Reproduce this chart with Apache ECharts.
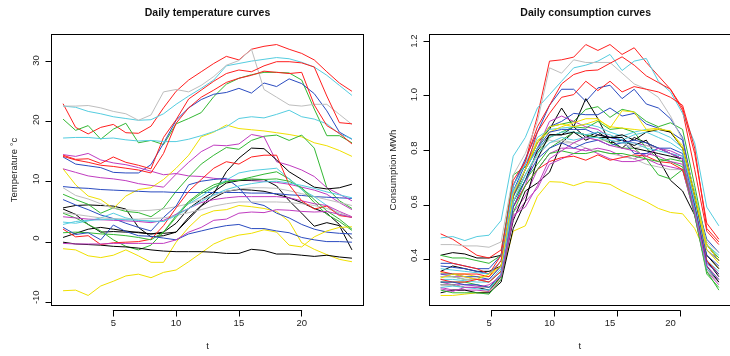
<!DOCTYPE html>
<html><head><meta charset="utf-8">
<script src="https://cdn.jsdelivr.net/npm/echarts@6/dist/echarts.min.js"></script>
<style>html,body{margin:0;padding:0;background:#fff}#c{width:730px;height:356px}</style>
</head><body><div id="c"></div>
<script>
// ---- data ----
const hours = [1,2,3,4,5,6,7,8,9,10,11,12,13,14,15,16,17,18,19,20,21,22,23,24];
const xTicks = [5,10,15,20];
const tempTicks = [-10,0,10,20,30];
const consTicks = [0.4,0.6,0.8,1.0,1.2];
const palette = ['#000000','#FF1F1F','#33B833','#2A4BC0','#55CDE0','#C03CC0','#F0E000','#BEBEBE'];

// Temperature (°C), per colour group
const tempBlack1 = [5.1,5.5,5.6,5.5,5.4,4.9,1.8,0.2,0.4,1.0,3.2,5.4,6.8,7.9,8.2,8.1,7.9,7.4,6.8,6.0,5.0,4.2,2.3,-0.1];
const tempBlack2 = [4.9,4.0,2.3,1.0,1.1,1.0,1.0,0.7,1.0,2.5,5.0,6.5,7.8,9.3,9.7,9.8,9.9,8.8,6.3,4.2,2.0,2.6,2.1,-2.0];
const tempBlack3 = [0.1,0.8,1.5,1.8,1.5,1.2,0.9,0.7,0.8,1.0,3.5,5.5,7.5,11.2,13.5,15.2,15.1,13.2,11.2,9.9,8.6,8.3,8.5,9.1];
const tempBlack4 = [-0.7,-1.0,-1.1,-1.2,-1.4,-1.5,-1.7,-2.0,-2.2,-2.3,-2.3,-2.3,-2.4,-2.6,-2.6,-1.9,-2.1,-2.7,-2.7,-2.9,-3.1,-2.9,-3.2,-3.4];
const tempRed1 = [22.7,18.7,17.6,18.7,19.2,17.8,17.7,18.9,22.0,24.8,26.7,28.1,29.5,30.7,30.1,31.9,32.4,32.7,31.9,31.2,30.1,28.1,26.2,24.8];
const tempRed2 = [14.0,13.3,13.4,12.6,13.7,12.8,12.3,11.7,17.0,20.0,23.5,25.0,26.5,27.8,28.4,28.1,29.1,29.8,29.8,29.6,28.9,24.0,19.5,19.3];
const tempRed3 = [13.8,13.2,12.8,12.3,12.1,11.8,11.5,11.0,14.3,19.4,22.0,23.8,25.0,26.3,27.0,27.5,28.2,28.0,27.8,28.0,22.5,19.0,17.7,15.9];
const tempRed4 = [1.5,0.2,0.4,-1.1,-0.8,-0.7,-0.6,-0.2,2.1,5.1,7.9,9.9,11.8,12.9,12.5,13.7,14.0,14.0,9.0,6.3,4.9,5.4,3.8,3.5];
const tempGreen1 = [20.1,18.2,19.0,16.7,18.4,19.4,16.1,16.5,15.8,19.3,20.2,21.2,23.9,26.0,27.0,27.6,28.0,28.0,27.9,26.7,21.8,17.3,17.3,16.1];
const tempGreen2 = [7.4,6.5,5.7,4.2,5.1,4.5,4.3,3.6,5.1,7.9,10.3,12.5,14.0,15.3,15.0,16.5,17.2,17.4,16.5,17.4,15.2,8.5,6.3,5.0];
const tempGreen3 = [4.2,3.4,2.3,1.2,-0.3,-1.4,-2.0,-1.2,1.0,3.8,6.2,7.8,9.0,9.6,9.8,10.3,10.8,11.2,10.0,8.3,6.0,4.0,2.8,1.3];
const tempGreen4 = [0.9,1.0,0.9,0.7,0.6,0.4,0.1,-0.3,1.0,3.5,6.0,7.5,8.6,9.5,9.8,10.0,9.9,10.0,9.6,8.5,6.5,4.6,3.2,1.5];
const tempBlue1 = [13.7,12.5,12.2,11.9,11.1,11.0,11.0,12.4,16.0,19.9,22.0,23.4,24.3,24.6,25.3,24.5,26.2,25.6,26.9,26.1,24.4,21.5,17.9,16.7];
const tempBlue2 = [8.7,8.5,8.4,8.2,8.1,8.0,7.9,7.8,7.8,7.7,7.7,7.7,7.7,7.7,7.7,7.6,7.6,7.5,7.3,7.2,7.0,6.9,6.8,6.7];
const tempBlue3 = [6.5,5.6,4.8,3.9,3.3,2.5,1.8,1.2,3.5,5.4,9.0,9.6,9.9,10.1,8.5,6.0,5.5,4.2,3.4,2.3,1.5,1.0,0.8,0.7];
const tempBlue4 = [1.8,0.6,0.9,-0.3,2.2,1.1,0.4,0.3,0.0,-0.3,0.7,1.2,1.7,2.1,2.3,1.6,1.6,1.2,0.9,0.1,-0.3,-0.6,-0.6,-0.7];
const tempCyan1 = [22.3,22.1,21.4,21.0,20.5,20.2,19.9,20.0,21.0,22.6,24.0,25.3,26.7,29.1,29.5,29.9,30.2,30.5,30.3,29.7,28.9,27.5,25.8,24.1];
const tempCyan2 = [16.9,17.0,17.0,16.8,16.9,16.6,16.4,16.5,16.3,16.3,16.7,17.3,18.0,18.8,20.2,20.5,20.3,20.9,21.6,20.5,20.1,19.3,17.6,16.8];
const tempCyan3 = [2.7,2.5,2.9,3.4,4.2,3.4,3.0,2.8,2.8,4.0,5.8,7.0,8.5,9.8,11.0,11.4,11.6,11.8,10.0,8.2,7.0,5.5,4.0,3.5];
const tempCyan4 = [2.3,2.8,3.0,3.1,3.2,3.1,3.0,2.9,2.8,3.8,5.0,6.2,7.3,8.2,8.8,9.2,9.5,9.6,9.3,8.9,8.4,7.8,7.3,6.8];
const tempMagenta1 = [14.1,13.8,14.3,13.2,12.7,12.4,11.9,11.3,10.7,10.9,10.5,10.4,10.1,9.9,9.8,9.7,9.6,9.4,9.1,8.6,8.1,7.4,6.0,4.8];
const tempMagenta2 = [11.7,11.1,10.5,10.2,10.0,9.7,9.2,8.9,8.6,10.8,12.8,14.6,15.7,15.6,15.9,17.5,17.1,12.9,12.3,11.5,10.4,8.5,7.4,6.3];
const tempMagenta3 = [3.6,3.4,3.2,3.1,3.0,2.9,2.8,2.6,3.0,4.0,5.0,6.0,6.5,6.8,7.0,7.0,7.0,7.0,6.8,6.3,5.8,5.5,4.5,3.6];
const tempMagenta4 = [-0.9,-1.0,-1.0,-1.0,-0.9,-0.9,-0.9,-0.9,-0.9,-0.3,1.0,1.8,3.0,3.2,4.2,4.4,4.3,4.8,4.7,4.5,4.4,4.5,4.0,3.5];
const tempYellow1 = [11.7,9.0,7.1,6.5,5.0,7.1,8.2,8.5,9.9,11.8,14.0,17.1,17.9,19.1,18.5,18.3,18.1,17.8,17.5,17.1,16.1,15.6,14.8,13.8];
const tempYellow2 = [-1.8,-2.0,-3.0,-3.3,-2.9,-2.0,-3.0,-4.1,-4.1,-0.7,1.8,3.8,4.6,4.8,5.5,5.3,5.0,4.5,2.8,-0.8,-1.9,-2.8,-3.6,-4.0];
const tempYellow3 = [-8.9,-8.8,-9.7,-8.1,-7.3,-6.4,-6.1,-6.7,-5.8,-5.4,-4.0,-2.5,-1.0,-0.1,0.5,0.8,1.4,1.0,-1.2,-1.5,0.2,1.2,1.8,1.9];
const tempGray1 = [22.3,22.3,22.4,22.0,21.4,21.0,19.9,20.8,24.7,25.1,24.7,25.8,27.3,29.2,30.0,31.9,25.1,23.8,22.5,22.3,22.6,22.6,20.9,19.2];
const tempGray2 = [8.5,7.2,6.6,5.8,5.0,4.8,4.6,4.7,4.9,5.3,5.8,6.5,7.2,7.9,8.3,8.5,8.5,8.4,8.0,7.5,7.0,6.5,6.0,5.5];
const tempGray3 = [4.3,4.0,3.7,3.4,3.3,3.2,3.2,3.3,3.4,3.8,4.3,4.8,5.4,5.8,6.1,6.1,6.1,6.1,6.0,5.8,5.5,5.0,4.3,3.5];

// Consumption (MWh), per colour group
const consBlack1 = [0.40,0.41,0.405,0.39,0.39,0.40,0.62,0.72,0.82,0.87,0.95,0.88,0.84,0.86,0.83,0.80,0.84,0.82,0.80,0.78,0.76,0.62,0.44,0.38];
const consBlack2 = [0.34,0.36,0.35,0.34,0.34,0.36,0.60,0.68,0.79,0.85,0.85,0.88,0.985,0.91,0.82,0.83,0.81,0.83,0.76,0.68,0.64,0.55,0.40,0.35];
const consBlack3 = [0.29,0.29,0.28,0.28,0.27,0.32,0.53,0.64,0.67,0.71,0.82,0.86,0.85,0.84,0.84,0.85,0.83,0.86,0.87,0.86,0.80,0.62,0.38,0.32];
const consBlack4 = [0.26,0.27,0.27,0.26,0.26,0.30,0.50,0.60,0.76,0.85,0.85,0.86,0.83,0.85,0.84,0.84,0.80,0.79,0.78,0.77,0.76,0.58,0.36,0.30];
const consRed1 = [0.48,0.46,0.43,0.40,0.39,0.42,0.66,0.75,0.92,1.125,1.13,1.14,1.187,1.165,1.187,1.15,1.175,1.12,1.07,1.02,0.94,0.72,0.49,0.44];
const consRed2 = [0.385,0.37,0.36,0.35,0.33,0.40,0.68,0.75,0.88,0.96,1.04,1.075,1.089,1.092,1.117,1.141,1.11,1.07,1.045,1.02,0.95,0.78,0.52,0.46];
const consRed3 = [0.34,0.33,0.33,0.33,0.32,0.38,0.62,0.72,0.86,0.93,0.99,1.0,1.05,1.015,1.05,1.01,1.03,1.02,1.01,0.99,0.96,0.80,0.50,0.45];
const consRed4 = [0.31,0.30,0.30,0.31,0.30,0.34,0.58,0.66,0.72,0.75,0.765,0.77,0.755,0.775,0.755,0.765,0.775,0.77,0.75,0.745,0.72,0.58,0.38,0.33];
const consGreen1 = [0.40,0.39,0.39,0.38,0.37,0.40,0.70,0.73,0.80,0.88,0.89,0.90,0.945,0.955,0.915,0.945,0.935,0.90,0.88,0.895,0.87,0.66,0.44,0.39];
const consGreen2 = [0.32,0.32,0.31,0.31,0.30,0.34,0.62,0.70,0.78,0.84,0.86,0.88,0.875,0.90,0.87,0.875,0.86,0.80,0.76,0.75,0.73,0.58,0.35,0.30];
const consGreen3 = [0.30,0.30,0.30,0.29,0.28,0.32,0.60,0.68,0.74,0.80,0.83,0.86,0.85,0.84,0.82,0.80,0.80,0.76,0.70,0.685,0.72,0.55,0.33,0.28];
const consGreen4 = [0.27,0.26,0.26,0.26,0.255,0.31,0.56,0.66,0.72,0.78,0.79,0.78,0.78,0.79,0.78,0.78,0.77,0.76,0.75,0.76,0.75,0.55,0.34,0.27];
const consBlue1 = [0.37,0.37,0.36,0.35,0.35,0.40,0.66,0.76,0.86,0.96,1.02,1.02,0.975,1.025,1.035,0.985,1.02,0.965,0.95,0.91,0.84,0.62,0.46,0.41];
const consBlue2 = [0.36,0.355,0.35,0.34,0.33,0.38,0.64,0.74,0.82,0.88,0.90,0.93,0.925,0.925,0.95,0.92,0.93,0.89,0.875,0.86,0.83,0.62,0.42,0.38];
const consBlue3 = [0.33,0.33,0.32,0.32,0.31,0.36,0.62,0.72,0.80,0.86,0.87,0.87,0.87,0.85,0.84,0.83,0.78,0.78,0.80,0.80,0.78,0.60,0.40,0.36];
const consBlue4 = [0.30,0.30,0.29,0.29,0.28,0.33,0.58,0.68,0.76,0.80,0.82,0.80,0.82,0.83,0.81,0.82,0.83,0.82,0.80,0.78,0.76,0.58,0.37,0.33];
const consCyan1 = [0.465,0.47,0.455,0.47,0.475,0.53,0.77,0.84,0.95,1.0,1.05,1.10,1.11,1.125,1.15,1.09,1.125,1.135,1.05,1.01,0.93,0.82,0.58,0.51];
const consCyan2 = [0.35,0.345,0.34,0.335,0.33,0.38,0.66,0.74,0.84,0.87,0.875,0.88,0.89,0.88,0.86,0.845,0.86,0.87,0.86,0.84,0.80,0.64,0.44,0.40];
const consCyan3 = [0.31,0.31,0.305,0.30,0.30,0.35,0.64,0.72,0.80,0.84,0.86,0.86,0.85,0.86,0.85,0.83,0.85,0.86,0.84,0.82,0.79,0.60,0.38,0.34];
const consCyan4 = [0.28,0.285,0.28,0.275,0.27,0.33,0.60,0.70,0.78,0.82,0.84,0.83,0.84,0.84,0.83,0.82,0.82,0.80,0.79,0.78,0.77,0.57,0.35,0.31];
const consMagenta1 = [0.33,0.32,0.32,0.31,0.31,0.36,0.58,0.66,0.80,0.90,0.92,0.90,0.88,0.87,0.84,0.83,0.82,0.81,0.80,0.79,0.77,0.60,0.38,0.33];
const consMagenta2 = [0.30,0.29,0.29,0.285,0.28,0.33,0.56,0.62,0.72,0.78,0.80,0.80,0.79,0.80,0.79,0.77,0.76,0.78,0.77,0.75,0.74,0.56,0.35,0.30];
const consMagenta3 = [0.28,0.27,0.27,0.27,0.265,0.31,0.54,0.60,0.65,0.74,0.76,0.78,0.80,0.78,0.76,0.75,0.75,0.76,0.74,0.73,0.72,0.55,0.34,0.29];
const consMagenta4 = [0.275,0.265,0.28,0.28,0.29,0.32,0.55,0.58,0.66,0.76,0.79,0.82,0.84,0.83,0.81,0.80,0.79,0.77,0.80,0.78,0.76,0.56,0.36,0.31];
const consYellow1 = [0.25,0.25,0.255,0.26,0.265,0.32,0.49,0.51,0.62,0.675,0.673,0.66,0.675,0.672,0.665,0.64,0.62,0.60,0.575,0.56,0.555,0.50,0.40,0.35];
const consYellow2 = [0.335,0.33,0.33,0.32,0.32,0.36,0.62,0.72,0.83,0.86,0.88,0.895,0.91,0.91,0.875,0.94,0.935,0.87,0.875,0.86,0.81,0.63,0.44,0.38];
const consYellow3 = [0.315,0.33,0.32,0.31,0.33,0.36,0.63,0.72,0.82,0.88,0.89,0.88,0.89,0.905,0.88,0.875,0.87,0.865,0.87,0.865,0.80,0.62,0.42,0.37];
const consGray1 = [0.44,0.44,0.435,0.435,0.43,0.45,0.70,0.78,0.90,1.10,1.08,1.13,1.12,1.12,1.12,1.08,1.04,1.02,0.99,0.92,0.83,0.60,0.45,0.41];
const consGray2 = [0.32,0.32,0.31,0.31,0.30,0.35,0.63,0.72,0.80,0.83,0.82,0.82,0.80,0.79,0.78,0.77,0.76,0.74,0.73,0.72,0.72,0.56,0.36,0.31];
const consGray3 = [0.29,0.29,0.28,0.28,0.28,0.33,0.60,0.70,0.77,0.82,0.83,0.82,0.84,0.83,0.83,0.82,0.80,0.81,0.80,0.78,0.75,0.57,0.34,0.30];

const tempGroups = [
  [tempBlack1,tempBlack2,tempBlack3,tempBlack4],
  [tempRed1,tempRed2,tempRed3,tempRed4],
  [tempGreen1,tempGreen2,tempGreen3,tempGreen4],
  [tempBlue1,tempBlue2,tempBlue3,tempBlue4],
  [tempCyan1,tempCyan2,tempCyan3,tempCyan4],
  [tempMagenta1,tempMagenta2,tempMagenta3,tempMagenta4],
  [tempYellow1,tempYellow2,tempYellow3],
  [tempGray1,tempGray2,tempGray3]
];
const consGroups = [
  [consBlack1,consBlack2,consBlack3,consBlack4],
  [consRed1,consRed2,consRed3,consRed4],
  [consGreen1,consGreen2,consGreen3,consGreen4],
  [consBlue1,consBlue2,consBlue3,consBlue4],
  [consCyan1,consCyan2,consCyan3,consCyan4],
  [consMagenta1,consMagenta2,consMagenta3,consMagenta4],
  [consYellow1,consYellow2,consYellow3],
  [consGray1,consGray2,consGray3]
];

// ---- chart ----
const W = 730, H = 356;
const FONT = "'Liberation Sans', Arial, sans-serif";
function ext(arrs){
  let lo=Infinity, hi=-Infinity;
  arrs.forEach(g=>g.forEach(a=>a.forEach(v=>{lo=Math.min(lo,v);hi=Math.max(hi,v);})));
  const d=(hi-lo)*0.04; return [lo-d, hi+d];
}
const tR = ext(tempGroups), cR = ext(consGroups);
const xd = (hours[hours.length-1]-hours[0])*0.04;
const xR = [hours[0]-xd, hours[hours.length-1]+xd];

// main plot rectangles (left, top, right, bottom as grid offsets)
const gL = {left:51.5, top:34.5, right:366.5, bottom:45.5};
const gR = {left:429.5, top:34.5, right:-12, bottom:45.5};

// helper grids carrying only the tick marks, sized so their extent == first..last tick
function xTickGrid(g){
  const x0 = g.left, x1 = W - g.right, k = (x1-x0)/(xR[1]-xR[0]);
  const a = x0 + (xTicks[0]-xR[0])*k, b = x0 + (xTicks[xTicks.length-1]-xR[0])*k;
  return {left:a, right:W-b, top:g.top, bottom:g.bottom};
}
function yTickGrid(g, r, ticks){
  const y0 = H - g.bottom, y1 = g.top, k = (y0-y1)/(r[1]-r[0]);
  const lo = y0 - (ticks[0]-r[0])*k, hi = y0 - (ticks[ticks.length-1]-r[0])*k;
  return {left:g.left, right:g.right, top:hi, bottom:H-lo};
}
const step = a => Math.round((a[1]-a[0])*1e6)/1e6;

const series = [];
for (let k=0;k<4;k++){
  for (let c=0;c<8;c++){
    [[tempGroups,0],[consGroups,1]].forEach(([G,idx])=>{
      const arr = G[c][k]; if(!arr) return;
      series.push({type:'line', xAxisIndex:idx, yAxisIndex:idx, showSymbol:false, symbol:'none',
        data: hours.map((h,i)=>[h,arr[i]]), lineStyle:{color:palette[c], width:1}, itemStyle:{color:palette[c]},
        silent:true, animation:false});
    });
  }
}
// invisible anchors so the tick-only grids have data
function anchor(xi, yi, data){
  return {type:'scatter', xAxisIndex:xi, yAxisIndex:yi, data:data, symbolSize:0, silent:true,
    itemStyle:{opacity:0}, animation:false};
}
series.push(anchor(4,4, xTicks.map(v=>[v, tR[0]])));
series.push(anchor(5,5, xTicks.map(v=>[v, cR[0]])));
series.push(anchor(6,6, tempTicks.map(v=>[xR[0], v])));
series.push(anchor(7,7, consTicks.map(v=>[xR[0], v])));

const txt = {fontSize:9.5, color:'#222', fontFamily:FONT};
const line = {show:true, onZero:false, lineStyle:{color:'#000', width:1}};
const noTick = {show:false};
function xLab(g){
  return {gridIndex:g, type:'value', position:'bottom', min:xR[0], max:xR[1],
    axisLine:line, splitLine:{show:false}, axisTick:noTick,
    axisLabel:Object.assign({customValues:xTicks, margin:13}, txt),
    name:'t', nameLocation:'middle', nameGap:35.5, nameTextStyle:txt};
}
function xTop(g){
  return {gridIndex:g, type:'value', position:'top', min:xR[0], max:xR[1],
    axisLine:line, splitLine:{show:false}, axisTick:noTick, axisLabel:{show:false}};
}
function xTickAx(g){
  return {gridIndex:g, type:'value', position:'bottom', min:xTicks[0], max:xTicks[xTicks.length-1], interval:step(xTicks),
    axisLine:line, splitLine:{show:false},
    axisTick:{show:true, inside:false, length:6, lineStyle:{color:'#000', width:1}},
    axisLabel:{show:false}};
}
function hiddenAx(g, r){ return {gridIndex:g, type:'value', show:false, min:r[0], max:r[1], splitLine:{show:false}}; }
function yLab(g, r, ticks, name, fmt, gap){
  return {gridIndex:g, type:'value', position:'left', min:r[0], max:r[1],
    axisLine:line, splitLine:{show:false}, axisTick:noTick,
    axisLabel:Object.assign({customValues:ticks, rotate:90, margin:10, formatter:fmt}, txt),
    name:name, nameLocation:'middle', nameGap:gap, nameTextStyle:txt};
}
function yRight(g, r){
  return {gridIndex:g, type:'value', position:'right', min:r[0], max:r[1],
    axisLine:line, splitLine:{show:false}, axisTick:noTick, axisLabel:{show:false}};
}
function yTickAx(g, ticks){
  return {gridIndex:g, type:'value', position:'left', min:ticks[0], max:ticks[ticks.length-1], interval:step(ticks),
    axisLine:line, splitLine:{show:false},
    axisTick:{show:true, inside:false, length:6, lineStyle:{color:'#000', width:1}},
    axisLabel:{show:false}};
}

const chart = echarts.init(document.getElementById('c'), null, {renderer:'canvas'});
chart.setOption({
  animation:false,
  backgroundColor:'#fff',
  grid:[gL, gR, xTickGrid(gL), xTickGrid(gR), yTickGrid(gL, tR, tempTicks), yTickGrid(gR, cR, consTicks)]
        .map(g=>Object.assign({containLabel:false}, g)),
  xAxis:[xLab(0), xLab(1), xTop(0), xTop(1), xTickAx(2), xTickAx(3), hiddenAx(4, xR), hiddenAx(5, xR)],
  yAxis:[
    yLab(0, tR, tempTicks, 'Temperature °c', v=>String(Math.round(v)), 32),
    yLab(1, cR, consTicks, 'Consumption MWh', v=>Number(v).toFixed(1), 31),
    yRight(0, tR), yRight(1, cR),
    hiddenAx(2, tR), hiddenAx(3, cR),
    yTickAx(4, tempTicks), yTickAx(5, consTicks)
  ],
  graphic:[
    {type:'text', style:{x:207.5, y:13, text:'Daily temperature curves', textAlign:'center', textVerticalAlign:'middle', font:'bold 10.5px '+FONT, fill:'#111'}},
    {type:'text', style:{x:585.7, y:13, text:'Daily consumption curves', textAlign:'center', textVerticalAlign:'middle', font:'bold 10.5px '+FONT, fill:'#111'}}
  ],
  series: series
});
</script></body></html>
